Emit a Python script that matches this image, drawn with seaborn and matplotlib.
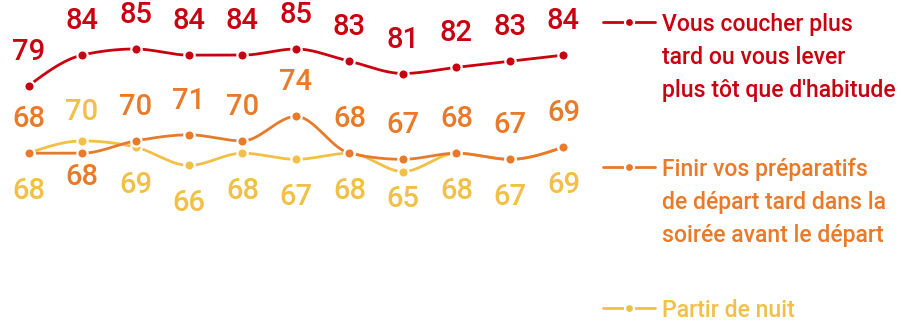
import numpy as np
import pandas as pd
import matplotlib
matplotlib.use("Agg")
import matplotlib.pyplot as plt
from matplotlib.lines import Line2D
import seaborn as sns

# ---- data ----
points = list(range(11))
coucher = [79, 84, 85, 84, 84, 85, 83, 81, 82, 83, 84]
finir = [68, 68, 70, 71, 70, 74, 68, 67, 68, 67, 69]
partir = [68, 70, 69, 66, 68, 67, 68, 65, 68, 67, 69]
legend_red = ["Vous coucher plus", "tard ou vous lever", "plus tôt que d'habitude"]
legend_orange = ["Finir vos préparatifs", "de départ tard dans la", "soirée avant le départ"]
legend_yellow = ["Partir de nuit"]

# ---- layout (label offsets in pixels, not data) ----
above_px = 34
above_px_yellow = 29
below_px = [38, 24, 38, 38, 38, 38, 38, 27, 38, 38, 38]

RED = "#C8000F"
ORANGE = "#E87A2A"
YELLOW = "#F2BF47"

sns.set_theme(style="white")
plt.rcParams['font.family'] = ['Roboto', 'DejaVu Sans']

W, H = 901, 323
fig = plt.figure(figsize=(W / 100, H / 100), dpi=100)
ax = fig.add_axes([0, 0, 1, 1])
ax.set_xlim(-0.533, 16.31)
ax.set_ylim(40.30, 92.99)
ax.axis("off")


def monotone(xs, ys, n=30):
    xs = np.asarray(xs, float)
    ys = np.asarray(ys, float)
    k = len(xs)
    h = np.diff(xs)
    s = np.diff(ys) / h
    t = np.zeros(k)
    for i in range(1, k - 1):
        h0, h1 = h[i - 1], h[i]
        s0, s1 = s[i - 1], s[i]
        p = (s0 * h1 + s1 * h0) / (h0 + h1)
        t[i] = (np.sign(s0) + np.sign(s1)) * min(abs(s0), abs(s1), 0.5 * abs(p))
    t[0] = (3 * s[0] - t[1]) / 2
    t[-1] = (3 * s[-1] - t[-2]) / 2
    out_x, out_y = [], []
    for i in range(k - 1):
        u = np.linspace(0, 1, n, endpoint=(i == k - 2))
        dx = h[i]
        h00 = 2 * u**3 - 3 * u**2 + 1
        h10 = u**3 - 2 * u**2 + u
        h01 = -2 * u**3 + 3 * u**2
        h11 = u**3 - u**2
        out_x.append(xs[i] + u * dx)
        out_y.append(h00 * ys[i] + h10 * dx * t[i] + h01 * ys[i + 1] + h11 * dx * t[i + 1])
    return np.concatenate(out_x), np.concatenate(out_y)


series = [(partir, YELLOW), (finir, ORANGE), (coucher, RED)]
for z, (vals, col) in enumerate(series):
    cx, cy = monotone(points, vals)
    sns.lineplot(x=cx, y=cy, ax=ax, color=col, linewidth=2.0, sort=False,
                 estimator=None, zorder=2 + z)
    sns.scatterplot(x=points, y=vals, ax=ax, color=col, s=55, edgecolor="white",
                    linewidth=1.6, zorder=5 + z)

px_per_pt = 100 / 72
lab_kw = dict(textcoords="offset points", ha="center", va="center",
              fontsize=21, fontweight="medium")

for i, v in enumerate(coucher):
    ax.annotate(str(v), (i, v), xytext=(0, above_px / px_per_pt), color=RED, **lab_kw)

for i in points:
    o, y = finir[i], partir[i]
    if o >= y:
        ax.annotate(str(o), (i, o), xytext=(0, above_px / px_per_pt), color=ORANGE, **lab_kw)
        ax.annotate(str(y), (i, y), xytext=(0, -below_px[i] / px_per_pt), color=YELLOW, **lab_kw)
    else:
        ax.annotate(str(y), (i, y), xytext=(0, above_px_yellow / px_per_pt), color=YELLOW, **lab_kw)
        ax.annotate(str(o), (i, o), xytext=(0, -below_px[i] / px_per_pt), color=ORANGE, **lab_kw)

# ---- legend ----
def fx(p):
    return p / W


def fy(p):
    return 1 - p / H


entries = [(legend_red, RED, 22), (legend_orange, ORANGE, 167), (legend_yellow, YELLOW, 308)]
for lines, col, ymark in entries:
    fig.add_artist(Line2D([fx(603), fx(655)], [fy(ymark), fy(ymark)], color=col,
                          linewidth=2.0, transform=fig.transFigure))
    fig.add_artist(Line2D([fx(629)], [fy(ymark)], color=col, marker="o", markersize=6.5,
                          markeredgecolor="white", markeredgewidth=1.6,
                          transform=fig.transFigure))
    for j, line in enumerate(lines):
        fig.text(fx(662), fy(ymark + 9 + 33 * j), line, color=col, fontsize=16.6,
                 fontweight="medium", ha="left", va="baseline")

fig.savefig("out.png", dpi=100)
